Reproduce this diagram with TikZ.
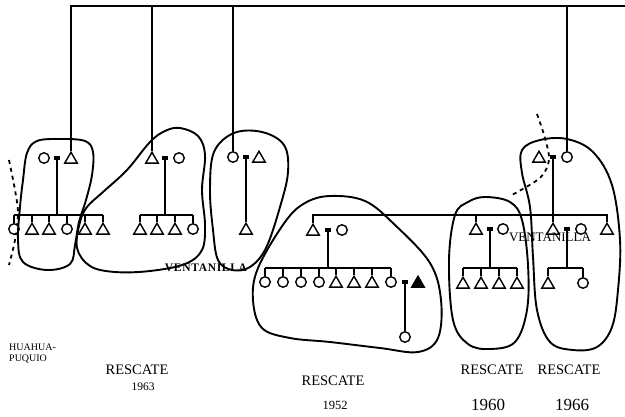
\documentclass[tikz,border=0pt]{standalone}
\usepackage{fontspec}
\setmainfont{Liberation Serif}
\usetikzlibrary{shapes.geometric}
\begin{document}
\begin{tikzpicture}[x=1pt,y=-1pt,
  tri/.style={regular polygon,regular polygon sides=3,draw,fill=white,inner sep=0pt,minimum size=14.5pt,line width=1.4pt},
  dtri/.style={tri,fill=black},
  circ/.style={circle,draw,fill=white,inner sep=0pt,minimum size=10.5pt,line width=1.4pt},
  mar/.style={rectangle,fill=black,inner sep=0pt,minimum width=6pt,minimum height=3.5pt},
  ln/.style={line width=1.4pt},
  blob/.style={line width=1.9pt,line join=round},
  dsh/.style={line width=1.8pt,dash pattern=on 4pt off 4pt},
  lab/.style={inner sep=0pt,font=\fontsize{14.5}{15}\selectfont},
  yr/.style={inner sep=0pt}]
\useasboundingbox (0,0) rectangle (625,416);

% dashed lines
\draw[dsh] plot[smooth] coordinates {(9,160) (15,190) (18,213) (15,240) (9,265)};
\draw[dsh] plot[smooth] coordinates {(537,114) (545,138) (549,160) (540,178) (510,196)};

% ---------- group 1
\node[circ] (w1) at (44,158) {};
\node[mar]  (m1) at (57,158) {};
\node[tri]  (h1) at (71,159.5) {};
\coordinate (b1) at (58,215);
\node[circ] (k11) at (14,229) {};
\node[tri]  (k12) at (32,230.5) {};
\node[tri]  (k13) at (49,230.5) {};
\node[circ] (k14) at (67,229) {};
\node[tri]  (k15) at (85,230.5) {};
\node[tri]  (k16) at (103,230.5) {};
\draw[ln] (m1.south) -- (m1 |- b1);
\draw[ln] (k11.north |- b1) -- (k16.north |- b1);
\foreach \k in {k11,k12,k13,k14,k15,k16} \draw[ln] (\k.north) -- (\k.north |- b1);

% ---------- group 2
\node[tri]  (h2) at (152,159.5) {};
\node[mar]  (m2) at (165,158) {};
\node[circ] (w2) at (179,158) {};
\coordinate (b2) at (165,215);
\node[tri]  (k21) at (140,230.5) {};
\node[tri]  (k22) at (157,230.5) {};
\node[tri]  (k23) at (175,230.5) {};
\node[circ] (k24) at (193,229) {};
\draw[ln] (m2.south) -- (m2 |- b2);
\draw[ln] (k21.north |- b2) -- (k24.north |- b2);
\foreach \k in {k21,k22,k23,k24} \draw[ln] (\k.north) -- (\k.north |- b2);

% ---------- group 3
\node[circ] (w3) at (233,157) {};
\node[mar]  (m3) at (246,157) {};
\node[tri]  (h3) at (259,158.5) {};
\node[tri]  (k31) at (246,230.5) {};
\draw[ln] (m3.south) -- (k31.north);

% ---------- group 4 (1952)
\node[tri]  (h4) at (313,231.5) {};
\node[mar]  (m4) at (328,230) {};
\node[circ] (w4) at (342,230) {};
\coordinate (b4) at (328,268);
\node[circ] (k41) at (265,282) {};
\node[circ] (k42) at (283,282) {};
\node[circ] (k43) at (301,282) {};
\node[circ] (k44) at (319,282) {};
\node[tri]  (k45) at (336,283.5) {};
\node[tri]  (k46) at (354,283.5) {};
\node[tri]  (k47) at (372,283.5) {};
\node[circ] (k48) at (391,282) {};
\node[mar]  (m4b) at (405,282) {};
\node[dtri] (d4) at (418,283.5) {};
\node[circ] (g4) at (405,337) {};
\draw[ln] (m4.south) -- (m4 |- b4);
\draw[ln] (k41.north |- b4) -- (k48.north |- b4);
\foreach \k in {k41,k42,k43,k44,k45,k46,k47,k48} \draw[ln] (\k.north) -- (\k.north |- b4);
\draw[ln] (m4b.south) -- (g4.north);

% ---------- group 5 (1960)
\node[tri]  (h5) at (476,230.5) {};
\node[mar]  (m5) at (490,229) {};
\node[circ] (w5) at (503,229) {};
\coordinate (b5) at (490,268);
\node[tri]  (k51) at (463,284.5) {};
\node[tri]  (k52) at (481,284.5) {};
\node[tri]  (k53) at (499,284.5) {};
\node[tri]  (k54) at (517,284.5) {};
\draw[ln] (m5.south) -- (m5 |- b5);
\draw[ln] (k51.north |- b5) -- (k54.north |- b5);
\foreach \k in {k51,k52,k53,k54} \draw[ln] (\k.north) -- (\k.north |- b5);

% ---------- group 6 (1966) top couple
\node[tri]  (h6) at (539,158.5) {};
\node[mar]  (m6) at (553,157) {};
\node[circ] (w6) at (567,157) {};
% second-generation couple
\node[tri]  (s6) at (553,230.5) {};
\node[mar]  (m7) at (567,229) {};
\node[circ] (w7) at (581,229) {};
\node[tri]  (t7) at (607,230.5) {};
\coordinate (b7) at (567,268);
\node[tri]  (k71) at (548,284.5) {};
\node[circ] (k72) at (583,283) {};
\draw[ln] (m6.south) -- (s6.north);
\draw[ln] (m7.south) -- (m7 |- b7);
\draw[ln] (k71.north |- b7) -- (k72.north |- b7);
\foreach \k in {k71,k72} \draw[ln] (\k.north) -- (\k.north |- b7);

% long sibling line
\coordinate (lb) at (313,215);
\draw[ln] (h4.north) -- (lb) -- (t7.north |- lb) -- (t7.north);
\draw[ln] (h5.north) -- (h5.north |- lb);

% top line
\coordinate (tl) at (71,6);
\coordinate (tr) at (625,6);
\draw[ln] (h1.north) -- (tl) -- (tr);
\draw[ln] (h2.north) -- (h2.north |- tl);
\draw[ln] (w3.north) -- (w3.north |- tl);
\draw[ln] (w6.north) -- (w6.north |- tl);

% ---------- blobs
\draw[blob] plot[smooth cycle,tension=0.6] coordinates {(37,141) (27,153) (23,180) (20,207) (18,240) (23,262) (47,270) (70,264) (75,245) (79,222) (86,200) (92,175) (93,152) (85,141) (60,139)};
\draw[blob] plot[smooth cycle,tension=0.6] coordinates {(180,128) (198,136) (205,155) (202,190) (205,225) (202,250) (185,264) (150,271) (115,272) (90,266) (77,248) (80,222) (87,207) (103,192) (127,170) (150,142) (165,131)};
\draw[blob] plot[smooth cycle,tension=0.6] coordinates {(234,133) (262,132) (284,145) (288,172) (280,207) (266,248) (250,267) (232,270) (218,260) (213,230) (210,190) (214,152)};
\draw[blob] plot[smooth cycle,tension=0.6] coordinates {(330,196) (365,201) (395,225) (430,263) (441,300) (438,338) (418,352) (380,348) (330,342) (290,338) (262,328) (253,300) (258,268) (285,222) (305,203)};
\draw[blob] plot[smooth cycle,tension=0.6] coordinates {(485,197) (510,202) (522,220) (528,265) (527,310) (515,342) (490,349) (468,344) (453,320) (449,260) (455,215) (468,202)};
\draw[blob] plot[smooth cycle,tension=0.6] coordinates {(540,140) (567,139) (593,152) (612,185) (620,240) (618,290) (612,327) (597,347) (573,350) (550,342) (537,310) (533,257) (530,207) (522,173) (522,150)};

% ---------- texts
\node[inner sep=0pt,font=\fontsize{11.5}{12}\selectfont\bfseries\addfontfeature{LetterSpace=6}] (v1) at (206,268) {VENTANILLA};
\node[inner sep=0pt,font=\fontsize{13}{13}\selectfont] (v2) at (550,237) {VENTANILLA};
\node[inner sep=0pt,anchor=west,font=\fontsize{10}{11}\selectfont] (hp1) at (9,347) {HUAHUA-};
\node[inner sep=0pt,anchor=west,font=\fontsize{10}{11}\selectfont] (hp2) at (9,359) {PUQUIO};
\node[lab] (r1) at (137,370) {RESCATE};
\node[yr,font=\fontsize{11.5}{12}\selectfont] (y1) at (143,387) {1963};
\node[lab] (r2) at (333,381) {RESCATE};
\node[yr,font=\fontsize{12.5}{13}\selectfont] (y2) at (335,405) {1952};
\node[lab] (r3) at (492,370) {RESCATE};
\node[yr,font=\fontsize{17}{17}\selectfont] (y3) at (488,405) {1960};
\node[lab] (r4) at (569,370) {RESCATE};
\node[yr,font=\fontsize{17}{17}\selectfont] (y4) at (572,405) {1966};
\end{tikzpicture}
\end{document}
